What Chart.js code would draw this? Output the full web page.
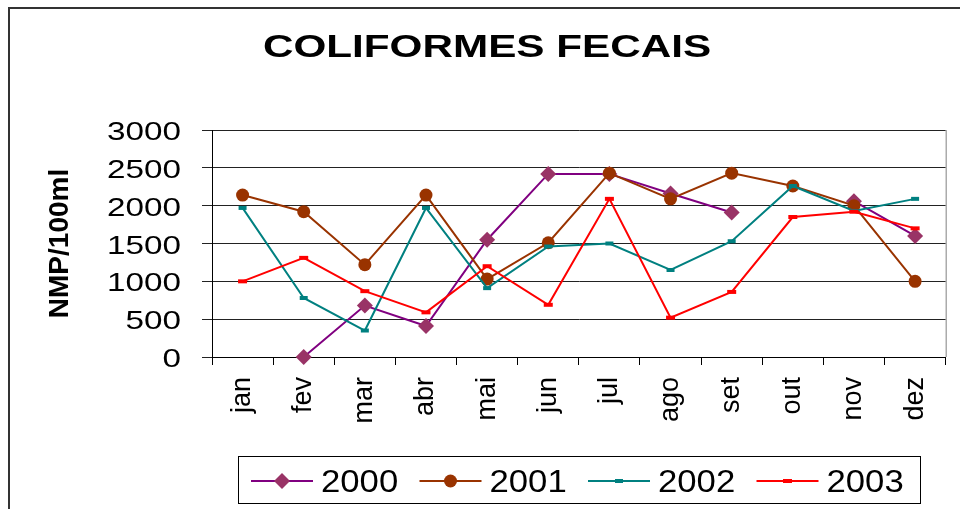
<!DOCTYPE html>
<html>
<head>
<meta charset="utf-8">
<script src="https://cdn.jsdelivr.net/npm/chart.js@4.4.1/dist/chart.umd.min.js"></script>
<style>
  body { margin: 0; background: #fff; }
  #wrap { width: 960px; height: 509px; position: relative; }
</style>
</head>
<body>
<div id="wrap"><canvas id="chart"></canvas></div>
<script>
const chartTitle = 'COLIFORMES FECAIS';
const axisTitle = 'NMP/100ml';
const months = ['jan', 'fev', 'mar', 'abr', 'mai', 'jun', 'jul', 'ago', 'set', 'out', 'nov', 'dez'];
const years = ['2000', '2001', '2002', '2003'];
const y2000 = [null, 0, 680, 410, 1550, 2420, 2420, 2160, 1910, null, 2060, 1600];
const y2001 = [2140, 1920, 1220, 2140, 1030, 1510, 2430, 2090, 2430, 2260, 2000, 1000];
const y2002 = [1970, 780, 350, 1970, 910, 1460, 1500, 1150, 1530, 2260, 1930, 2090];
const y2003 = [1000, 1310, 870, 590, 1200, 690, 2090, 520, 860, 1850, 1920, 1700];
const yTicks = [0, 500, 1000, 1500, 2000, 2500, 3000];

const FONT = "'Liberation Sans', Arial, sans-serif";
Chart.defaults.font.family = FONT;
Chart.defaults.color = '#000';

// excel stretched the horizontal texts, so draw them wider by hand
function wideText(ctx, text, x, y, align, sx) {
    ctx.save();
    ctx.translate(x, y);
    ctx.scale(sx, 1);
    ctx.textAlign = align;
    ctx.textBaseline = 'alphabetic';
    ctx.fillText(text, 0, 0);
    ctx.restore();
}

function drawMarker(ctx, ds, x, y) {
    ctx.save();
    ctx.fillStyle = ds.pointBackgroundColor;
    ctx.strokeStyle = ds.pointBorderColor;
    const r = ds.pointRadius;
    ctx.beginPath();
    if (ds.pointStyle === 'rectRot') {
        ctx.moveTo(x - r, y); ctx.lineTo(x, y - r); ctx.lineTo(x + r, y); ctx.lineTo(x, y + r);
        ctx.closePath(); ctx.fill();
    } else if (ds.pointStyle === 'circle') {
        ctx.arc(x, y, r, 0, Math.PI * 2); ctx.fill();
    } else {
        ctx.lineWidth = ds.pointBorderWidth;
        ctx.moveTo(x - r, y); ctx.lineTo(x + r, y); ctx.stroke();
    }
    ctx.restore();
}

const decor = {
    id: 'decor',
    afterDraw(chart) {
        const ctx = chart.ctx;
        const area = chart.chartArea;
        ctx.save();

        // frame of the excel object
        ctx.strokeStyle = '#333';
        ctx.lineWidth = 2;
        ctx.beginPath();
        ctx.moveTo(9, 509); ctx.lineTo(9, 8); ctx.lineTo(960, 8);
        ctx.stroke();

        // right edge of plot area
        ctx.strokeStyle = '#808080';
        ctx.lineWidth = 1;
        ctx.beginPath();
        ctx.moveTo(area.right + 0.5, area.top);
        ctx.lineTo(area.right + 0.5, area.bottom);
        ctx.stroke();

        ctx.fillStyle = '#000';
        ctx.font = 'bold 32px ' + FONT;
        wideText(ctx, chartTitle, 487, 57, 'center', 1.32);

        // y tick labels
        const ys = chart.scales.y;
        ctx.font = '25px ' + FONT;
        yTicks.forEach(v => {
            wideText(ctx, String(v), 181, ys.getPixelForValue(v) + 10, 'right', 1.33);
        });

        // legend
        ctx.strokeStyle = '#000';
        ctx.lineWidth = 1;
        ctx.strokeRect(238.5, 456.5, 682, 47);
        ctx.font = '31px ' + FONT;
        chart.data.datasets.forEach((ds, i) => {
            const x0 = 251 + i * 168.5;
            const ly = 481;
            ctx.strokeStyle = ds.borderColor;
            ctx.lineWidth = 2;
            ctx.beginPath();
            ctx.moveTo(x0, ly); ctx.lineTo(x0 + 62, ly);
            ctx.stroke();
            drawMarker(ctx, ds, x0 + 31, ly);
            ctx.fillStyle = '#000';
            wideText(ctx, ds.label, x0 + 70, 492, 'left', 1.12);
        });
        ctx.restore();
    }
};

new Chart(document.getElementById('chart'), {
    type: 'line',
    data: {
        labels: months,
        datasets: [{
            label: years[0],
            data: y2000,
            borderColor: '#800080',
            borderWidth: 2,
            pointStyle: 'rectRot',
            pointRadius: 8,
            pointBackgroundColor: '#993366',
            pointBorderColor: '#993366',
            pointBorderWidth: 0,
            order: 3
        }, {
            label: years[1],
            data: y2001,
            borderColor: '#993300',
            borderWidth: 2,
            pointStyle: 'circle',
            pointRadius: 6.5,
            pointBackgroundColor: '#993300',
            pointBorderColor: '#993300',
            pointBorderWidth: 0,
            order: 2
        }, {
            label: years[2],
            data: y2002,
            borderColor: '#008080',
            borderWidth: 2,
            pointStyle: 'line',
            pointRadius: 4,
            pointBackgroundColor: '#008080',
            pointBorderColor: '#008080',
            pointBorderWidth: 4,
            order: 1
        }, {
            label: years[3],
            data: y2003,
            borderColor: '#ff0000',
            borderWidth: 2,
            pointStyle: 'line',
            pointRadius: 4.5,
            pointBackgroundColor: '#ff0000',
            pointBorderColor: '#ff0000',
            pointBorderWidth: 4,
            order: 0
        }]
    },
    options: {
        responsive: true,
        maintainAspectRatio: false,
        animation: false,
        spanGaps: false,
        clip: false,
        layout: {
            padding: { left: 0, right: 12, top: 130, bottom: 0 }
        },
        plugins: {
            legend: { display: false },
            title: { display: false },
            tooltip: { enabled: false }
        },
        scales: {
            x: {
                offset: true,
                afterFit: s => { s.height = 152; },
                grid: {
                    offset: true,
                    drawOnChartArea: false,
                    drawTicks: true,
                    tickLength: 8,
                    color: '#000'
                },
                border: { color: '#000', width: 1 },
                ticks: {
                    minRotation: 90,
                    maxRotation: 90,
                    autoSkip: false,
                    padding: 12,
                    font: { size: 27 },
                    color: '#000'
                }
            },
            y: {
                min: 0,
                max: 3000,
                afterFit: s => { s.width = 212; },
                afterBuildTicks: s => { s.ticks = yTicks.map(v => ({ value: v })); },
                grid: {
                    color: '#222',
                    lineWidth: 1,
                    tickLength: 10
                },
                border: { color: '#000', width: 1 },
                ticks: { display: false },
                title: {
                    display: true,
                    text: axisTitle,
                    font: { size: 28, weight: 'bold' },
                    color: '#000',
                    padding: { top: 43, bottom: 0 }
                }
            }
        }
    },
    plugins: [decor]
});
</script>
</body>
</html>
